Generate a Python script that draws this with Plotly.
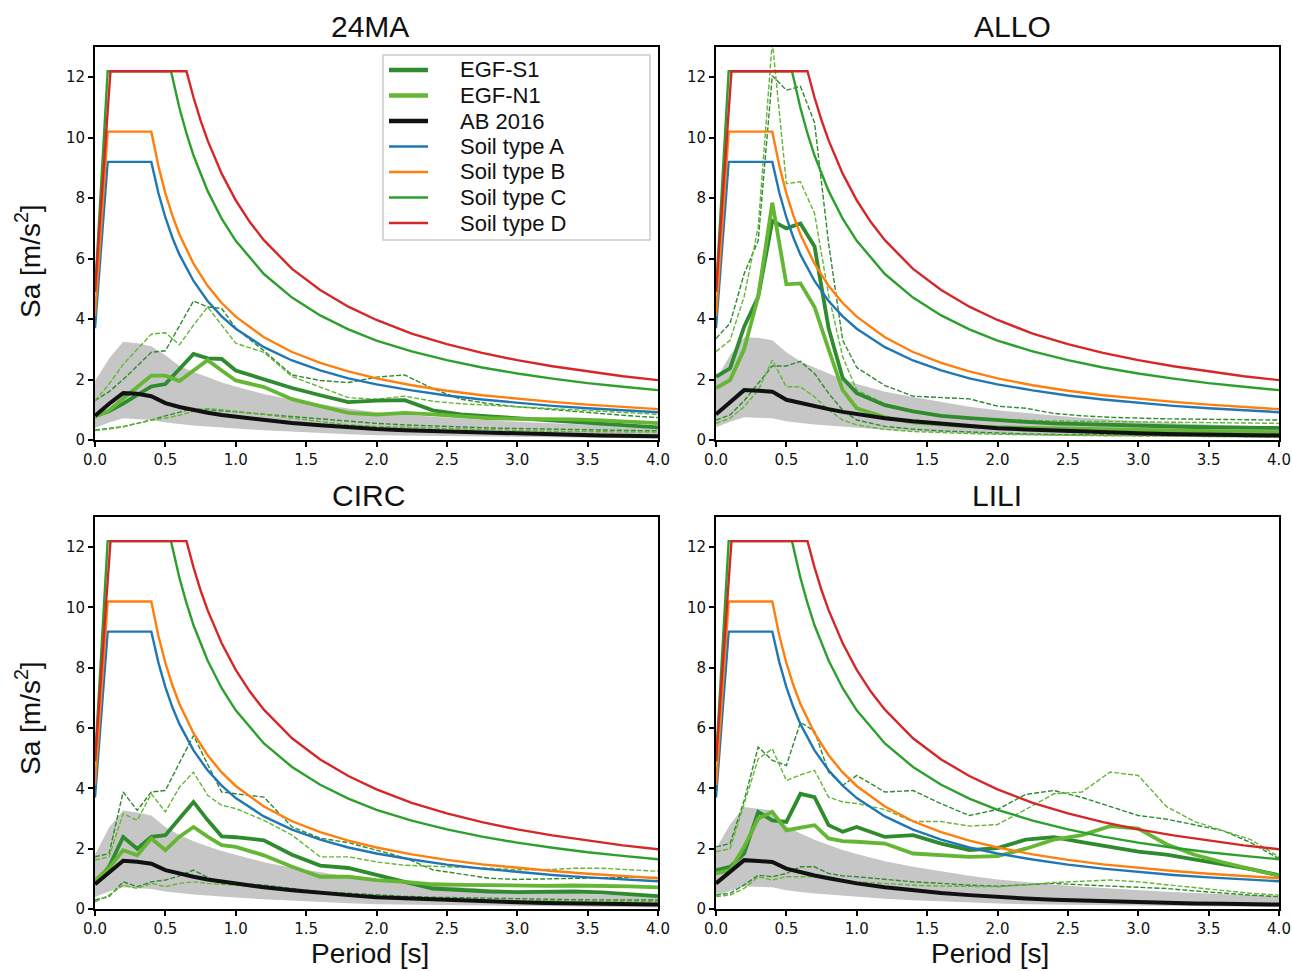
import plotly.graph_objects as go

# periods of the EGF / GMPE spectra
T_EGF = [0.0, 0.1, 0.2, 0.3, 0.4, 0.5, 0.6, 0.7, 0.8, 0.9, 1.0, 1.2, 1.4,
         1.6, 1.8, 2.0, 2.2, 2.4, 2.6, 2.8, 3.0, 3.2, 3.4, 3.6, 3.8, 4.0]

# design spectra
SOIL_AB_T = [0.0, 0.09, 0.4, 0.45, 0.5, 0.55, 0.6, 0.7, 0.8, 0.9, 1.0, 1.2, 1.4,
             1.6, 1.8, 2.0, 2.25, 2.5, 2.75, 3.0, 3.25, 3.5, 3.75, 4.0]
SOIL_A = [3.7, 9.2, 9.2, 8.18, 7.36, 6.69, 6.13, 5.26, 4.6, 4.09, 3.68, 3.07, 2.63,
          2.3, 2.04, 1.84, 1.64, 1.47, 1.34, 1.23, 1.13, 1.05, 0.98, 0.92]
SOIL_B = [4.1, 10.2, 10.2, 9.07, 8.16, 7.42, 6.8, 5.83, 5.1, 4.53, 4.08, 3.4, 2.91,
          2.55, 2.27, 2.04, 1.81, 1.63, 1.48, 1.36, 1.26, 1.17, 1.09, 1.02]
SOIL_C_T = [0.0, 0.09, 0.54, 0.57, 0.6, 0.65, 0.7, 0.8, 0.9, 1.0, 1.2, 1.4, 1.6,
            1.8, 2.0, 2.25, 2.5, 2.75, 3.0, 3.25, 3.5, 3.75, 4.0]
SOIL_C = [4.9, 12.2, 12.2, 11.56, 10.98, 10.14, 9.41, 8.24, 7.32, 6.59, 5.49, 4.71,
          4.12, 3.66, 3.29, 2.93, 2.64, 2.40, 2.20, 2.03, 1.88, 1.76, 1.65]
SOIL_D_T = [0.0, 0.11, 0.65, 0.7, 0.75, 0.8, 0.9, 1.0, 1.1, 1.2, 1.4, 1.6, 1.8,
            2.0, 2.25, 2.5, 2.75, 3.0, 3.25, 3.5, 3.75, 4.0]
SOIL_D = [4.9, 12.2, 12.2, 11.33, 10.57, 9.91, 8.81, 7.93, 7.21, 6.61, 5.66, 4.96,
          4.41, 3.97, 3.52, 3.17, 2.88, 2.64, 2.44, 2.27, 2.11, 1.98]

# 24MA
S1_24MA = [0.80, 0.95, 1.20, 1.50, 1.77, 1.85, 2.35, 2.85, 2.70, 2.68, 2.30, 2.00, 1.72,
           1.48, 1.25, 1.30, 1.32, 0.98, 0.85, 0.78, 0.72, 0.66, 0.60, 0.54, 0.48, 0.42]
S1_HI_24MA = [1.30, 1.60, 2.00, 2.45, 2.90, 2.95, 3.80, 4.60, 4.40, 4.35, 3.70, 2.95, 2.15,
              1.97, 1.90, 2.08, 2.15, 1.70, 1.35, 1.20, 1.10, 1.02, 0.94, 0.87, 0.80, 0.74]
S1_LO_24MA = [0.33, 0.38, 0.44, 0.55, 0.66, 0.80, 0.92, 1.04, 1.00, 0.97, 0.93, 0.85, 0.77,
              0.70, 0.62, 0.55, 0.50, 0.46, 0.42, 0.40, 0.38, 0.36, 0.34, 0.33, 0.31, 0.30]
N1_24MA = [0.77, 0.98, 1.37, 1.75, 2.13, 2.13, 1.95, 2.30, 2.64, 2.30, 1.97, 1.75, 1.35,
           1.12, 0.90, 0.84, 0.90, 0.85, 0.78, 0.72, 0.70, 0.70, 0.68, 0.65, 0.60, 0.56]
N1_HI_24MA = [1.30, 1.85, 2.50, 3.00, 3.50, 3.55, 3.15, 3.80, 4.40, 3.80, 3.20, 2.90, 2.10,
              1.75, 1.40, 1.35, 1.45, 1.28, 1.20, 1.15, 1.10, 1.05, 1.00, 0.95, 0.90, 0.85]
N1_LO_24MA = [0.31, 0.36, 0.44, 0.55, 0.66, 0.72, 0.82, 0.95, 1.04, 1.00, 0.95, 0.85, 0.72,
              0.60, 0.50, 0.45, 0.42, 0.40, 0.36, 0.33, 0.30, 0.29, 0.28, 0.27, 0.26, 0.26]
AB_24MA = [0.80, 1.20, 1.55, 1.53, 1.45, 1.22, 1.09, 0.98, 0.90, 0.83, 0.77, 0.65, 0.56,
           0.49, 0.42, 0.36, 0.32, 0.29, 0.26, 0.23, 0.21, 0.19, 0.17, 0.15, 0.14, 0.12]
AB_HI_24MA = [1.95, 2.70, 3.25, 3.20, 3.10, 2.80, 2.45, 2.25, 2.08, 1.90, 1.77, 1.52, 1.33,
              1.18, 1.04, 0.92, 0.84, 0.77, 0.71, 0.65, 0.60, 0.56, 0.52, 0.48, 0.45, 0.42]
AB_LO_24MA = [0.40, 0.58, 0.72, 0.70, 0.66, 0.58, 0.53, 0.48, 0.44, 0.41, 0.38, 0.32, 0.27,
              0.23, 0.19, 0.16, 0.14, 0.12, 0.11, 0.10, 0.09, 0.08, 0.07, 0.06, 0.06, 0.05]

# ALLO
S1_ALLO = [2.09, 2.37, 3.75, 4.74, 7.25, 7.00, 7.16, 6.40, 3.70, 2.05, 1.55, 1.15, 0.95,
           0.80, 0.72, 0.65, 0.60, 0.55, 0.52, 0.49, 0.47, 0.45, 0.43, 0.42, 0.41, 0.40]
S1_HI_ALLO = [3.36, 3.86, 5.50, 6.60, 12.05, 11.57, 11.70, 10.50, 6.50, 3.30, 2.40, 1.80, 1.45,
              1.40, 1.36, 1.12, 1.05, 0.88, 0.80, 0.75, 0.72, 0.70, 0.69, 0.68, 0.67, 0.66]
S1_LO_ALLO = [0.66, 0.83, 1.30, 1.87, 2.45, 2.45, 2.60, 2.20, 1.54, 0.99, 0.66, 0.45, 0.36,
              0.30, 0.26, 0.22, 0.20, 0.18, 0.17, 0.16, 0.15, 0.14, 0.13, 0.13, 0.12, 0.12]
N1_ALLO = [1.72, 1.98, 3.00, 4.75, 7.85, 5.15, 5.18, 4.40, 3.00, 1.65, 1.05, 0.75, 0.58,
           0.50, 0.45, 0.42, 0.40, 0.38, 0.36, 0.34, 0.32, 0.30, 0.29, 0.28, 0.27, 0.26]
N1_HI_ALLO = [2.92, 3.30, 4.74, 7.05, 13.20, 8.48, 8.54, 7.50, 4.80, 2.75, 1.65, 1.20, 0.95,
              0.82, 0.72, 0.68, 0.65, 0.63, 0.62, 0.61, 0.60, 0.59, 0.58, 0.57, 0.56, 0.55]
N1_LO_ALLO = [0.55, 0.72, 1.10, 1.65, 2.64, 1.76, 1.76, 1.43, 0.99, 0.66, 0.50, 0.35, 0.28,
              0.24, 0.21, 0.19, 0.17, 0.16, 0.15, 0.14, 0.13, 0.12, 0.11, 0.11, 0.10, 0.10]
AB_ALLO = [0.85, 1.25, 1.65, 1.63, 1.60, 1.33, 1.22, 1.11, 1.02, 0.93, 0.85, 0.72, 0.62,
           0.54, 0.46, 0.39, 0.35, 0.31, 0.28, 0.25, 0.22, 0.20, 0.18, 0.17, 0.16, 0.15]
AB_HI_ALLO = [2.00, 2.80, 3.40, 3.38, 3.30, 2.90, 2.60, 2.40, 2.20, 2.00, 1.85, 1.60, 1.42,
              1.26, 1.10, 0.98, 0.89, 0.81, 0.74, 0.68, 0.62, 0.57, 0.53, 0.49, 0.46, 0.43]
AB_LO_ALLO = [0.42, 0.60, 0.75, 0.74, 0.72, 0.62, 0.56, 0.51, 0.47, 0.44, 0.40, 0.34, 0.29,
              0.25, 0.21, 0.18, 0.16, 0.14, 0.12, 0.11, 0.10, 0.09, 0.08, 0.07, 0.07, 0.06]

# CIRC
S1_CIRC = [0.85, 1.40, 2.39, 2.00, 2.39, 2.45, 3.00, 3.55, 2.95, 2.41, 2.38, 2.28, 1.80,
           1.44, 1.36, 1.12, 0.90, 0.68, 0.62, 0.58, 0.56, 0.57, 0.58, 0.55, 0.50, 0.43]
S1_HI_CIRC = [1.73, 1.84, 3.88, 3.27, 3.88, 3.93, 4.85, 5.75, 4.80, 3.88, 3.82, 3.71, 2.72,
              2.35, 2.20, 1.95, 1.70, 1.30, 1.15, 1.02, 0.98, 1.00, 1.02, 1.05, 1.05, 1.05]
S1_LO_CIRC = [0.30, 0.41, 0.90, 0.74, 0.90, 0.96, 1.10, 1.29, 1.05, 0.85, 0.85, 0.79, 0.68,
              0.57, 0.52, 0.46, 0.42, 0.39, 0.37, 0.35, 0.33, 0.32, 0.31, 0.30, 0.30, 0.30]
N1_CIRC = [0.95, 1.35, 1.95, 1.78, 2.34, 1.95, 2.40, 2.72, 2.40, 2.12, 2.06, 1.78, 1.40,
           1.07, 1.07, 0.96, 0.90, 0.82, 0.80, 0.78, 0.77, 0.77, 0.78, 0.78, 0.75, 0.72]
N1_HI_CIRC = [1.62, 1.73, 3.16, 2.94, 3.82, 3.22, 4.04, 4.54, 3.77, 3.44, 3.33, 2.94, 2.45,
              1.73, 1.73, 1.56, 1.45, 1.42, 1.40, 1.35, 1.30, 1.30, 1.35, 1.35, 1.30, 1.25]
N1_LO_CIRC = [0.24, 0.46, 0.79, 0.68, 0.85, 0.74, 0.85, 0.90, 0.85, 0.82, 0.79, 0.70, 0.60,
              0.52, 0.46, 0.41, 0.37, 0.34, 0.31, 0.29, 0.28, 0.27, 0.26, 0.25, 0.25, 0.25]
AB_CIRC = [0.82, 1.20, 1.60, 1.57, 1.50, 1.29, 1.17, 1.07, 0.98, 0.91, 0.85, 0.72, 0.62,
           0.53, 0.46, 0.39, 0.35, 0.31, 0.28, 0.25, 0.22, 0.20, 0.18, 0.17, 0.16, 0.15]
AB_HI_CIRC = [1.80, 2.70, 3.27, 3.20, 3.10, 2.72, 2.45, 2.25, 2.08, 1.92, 1.80, 1.55, 1.37,
              1.22, 1.08, 0.96, 0.87, 0.79, 0.72, 0.66, 0.60, 0.55, 0.51, 0.47, 0.44, 0.41]
AB_LO_CIRC = [0.40, 0.58, 0.72, 0.70, 0.66, 0.58, 0.53, 0.48, 0.44, 0.41, 0.38, 0.32, 0.27,
              0.23, 0.19, 0.16, 0.14, 0.12, 0.11, 0.10, 0.09, 0.08, 0.07, 0.06, 0.06, 0.05]

# LILI
S1_LILI = [1.29, 1.40, 1.84, 3.22, 2.94, 2.89, 3.82, 3.71, 2.78, 2.56, 2.72, 2.39, 2.45,
           2.17, 1.95, 2.02, 2.30, 2.38, 2.22, 2.05, 1.90, 1.80, 1.65, 1.50, 1.32, 1.12]
S1_HI_LILI = [2.06, 2.17, 3.60, 5.37, 4.93, 4.76, 6.19, 5.90, 4.54, 4.10, 4.43, 3.88, 3.93,
              3.49, 3.10, 3.30, 3.80, 3.93, 3.70, 3.40, 3.10, 2.98, 2.80, 2.60, 2.20, 1.67]
S1_LO_LILI = [0.46, 0.52, 0.80, 1.12, 1.07, 1.18, 1.40, 1.40, 1.18, 1.10, 1.07, 0.98, 0.90,
              0.85, 0.79, 0.76, 0.80, 0.85, 0.80, 0.76, 0.74, 0.68, 0.60, 0.52, 0.46, 0.41]
N1_LILI = [1.18, 1.29, 2.06, 3.00, 3.22, 2.61, 2.70, 2.78, 2.34, 2.25, 2.23, 2.17, 1.84,
           1.79, 1.73, 1.75, 2.00, 2.30, 2.45, 2.75, 2.67, 2.15, 1.80, 1.55, 1.33, 1.10]
N1_HI_LILI = [1.90, 2.00, 3.49, 4.98, 5.31, 4.26, 4.45, 4.60, 3.71, 3.55, 3.50, 3.30, 2.90,
              2.90, 2.75, 2.80, 3.30, 3.82, 3.88, 4.54, 4.43, 3.40, 2.90, 2.60, 2.30, 1.73]
N1_LO_LILI = [0.41, 0.46, 0.68, 1.07, 0.96, 1.07, 1.07, 1.07, 1.00, 0.95, 0.90, 0.85, 0.79,
              0.76, 0.74, 0.74, 0.80, 0.88, 0.92, 0.96, 0.90, 0.80, 0.70, 0.60, 0.52, 0.46]
AB_LILI = [0.85, 1.25, 1.62, 1.59, 1.56, 1.34, 1.22, 1.11, 1.02, 0.93, 0.85, 0.72, 0.62,
           0.53, 0.46, 0.39, 0.35, 0.31, 0.28, 0.25, 0.22, 0.20, 0.18, 0.17, 0.16, 0.15]
AB_HI_LILI = [2.00, 2.80, 3.38, 3.33, 3.27, 2.75, 2.50, 2.30, 2.12, 1.96, 1.82, 1.58, 1.40,
              1.24, 1.10, 0.98, 0.89, 0.81, 0.74, 0.68, 0.62, 0.57, 0.53, 0.49, 0.46, 0.43]
AB_LO_LILI = [0.42, 0.60, 0.75, 0.74, 0.72, 0.62, 0.56, 0.51, 0.47, 0.44, 0.40, 0.34, 0.29,
              0.25, 0.21, 0.18, 0.16, 0.14, 0.12, 0.11, 0.10, 0.09, 0.08, 0.07, 0.07, 0.06]

STATIONS = ["24MA", "ALLO", "CIRC", "LILI"]
X_TICKS = [0.0, 0.5, 1.0, 1.5, 2.0, 2.5, 3.0, 3.5, 4.0]
Y_TICKS = [0, 2, 4, 6, 8, 10, 12]

panels = [
    (S1_24MA, S1_HI_24MA, S1_LO_24MA, N1_24MA, N1_HI_24MA, N1_LO_24MA, AB_24MA, AB_HI_24MA, AB_LO_24MA),
    (S1_ALLO, S1_HI_ALLO, S1_LO_ALLO, N1_ALLO, N1_HI_ALLO, N1_LO_ALLO, AB_ALLO, AB_HI_ALLO, AB_LO_ALLO),
    (S1_CIRC, S1_HI_CIRC, S1_LO_CIRC, N1_CIRC, N1_HI_CIRC, N1_LO_CIRC, AB_CIRC, AB_HI_CIRC, AB_LO_CIRC),
    (S1_LILI, S1_HI_LILI, S1_LO_LILI, N1_LILI, N1_HI_LILI, N1_LO_LILI, AB_LILI, AB_HI_LILI, AB_LO_LILI),
]

S1_COL = "#2e8b2e"
N1_COL = "#64b634"
W, H = 1292, 971


def px(x):
    return x / W


def py(y):
    return 1 - y / H


# plot areas in page pixels (left, right, top, bottom)
boxes = [(95, 658, 47, 440), (716, 1279, 47, 440), (95, 658, 517, 909), (716, 1279, 517, 909)]

soils = [("Soil type A", SOIL_AB_T, SOIL_A, "#1f77b4"),
         ("Soil type B", SOIL_AB_T, SOIL_B, "#ff7f0e"),
         ("Soil type C", SOIL_C_T, SOIL_C, "#2ca02c"),
         ("Soil type D", SOIL_D_T, SOIL_D, "#d62728")]

fig = go.Figure()

for i, data in enumerate(panels):
    s1, s1hi, s1lo, n1, n1hi, n1lo, ab, abhi, ablo = data
    sfx = "" if i == 0 else str(i + 1)
    xa, ya = "x" + sfx, "y" + sfx

    # GMPE +/- sigma band
    fig.add_trace(go.Scatter(x=T_EGF + T_EGF[::-1], y=abhi + ablo[::-1], fill="toself",
                             fillcolor="#c6c6c6", line=dict(width=0), mode="lines",
                             hoverinfo="skip", xaxis=xa, yaxis=ya))
    for ys, col in [(s1hi, S1_COL), (s1lo, S1_COL), (n1hi, N1_COL), (n1lo, N1_COL)]:
        fig.add_trace(go.Scatter(x=T_EGF, y=ys, mode="lines",
                                 line=dict(color=col, width=1.4, dash="5px,2px"),
                                 xaxis=xa, yaxis=ya))
    fig.add_trace(go.Scatter(x=T_EGF, y=s1, mode="lines", name="EGF-S1",
                             line=dict(color=S1_COL, width=3.8), xaxis=xa, yaxis=ya))
    fig.add_trace(go.Scatter(x=T_EGF, y=n1, mode="lines", name="EGF-N1",
                             line=dict(color=N1_COL, width=3.8), xaxis=xa, yaxis=ya))
    fig.add_trace(go.Scatter(x=T_EGF, y=ab, mode="lines", name="AB 2016",
                             line=dict(color="#111111", width=4), xaxis=xa, yaxis=ya))
    for nm, tx, ys, col in soils:
        fig.add_trace(go.Scatter(x=tx, y=ys, mode="lines", name=nm,
                                 line=dict(color=col, width=2.4), xaxis=xa, yaxis=ya))

axis_common = dict(showgrid=False, zeroline=False, showline=True, mirror=True,
                   automargin=False,
                   linecolor="black", linewidth=2, ticks="outside", ticklen=5, tickwidth=1.5,
                   tickcolor="black", tickfont=dict(family="DejaVu Sans", size=15, color="#111"))

layout = {}
for i, (l, r, t, b) in enumerate(boxes):
    sfx = "" if i == 0 else str(i + 1)
    layout["xaxis" + sfx] = dict(axis_common, domain=[px(l), px(r)], range=[0, 4],
                                 tickvals=X_TICKS, tickformat=".1f", anchor="y" + sfx)
    layout["yaxis" + sfx] = dict(axis_common, domain=[py(b), py(t)], range=[0, 13],
                                 tickvals=Y_TICKS, anchor="x" + sfx)

FONT = "Liberation Sans, Arial"
title_pos = [(370, 26), (1012, 26), (368, 495), (997, 495)]
ann = []
for name, (tx, ty) in zip(STATIONS, title_pos):
    ann.append(dict(text=name, x=px(tx), y=py(ty), xref="paper", yref="paper",
                    showarrow=False, xanchor="center", yanchor="middle",
                    font=dict(family=FONT, size=30, color="#111")))
for cy in [261, 718]:
    ann.append(dict(text="Sa [m/s<sup>2</sup>]", x=px(28), y=py(cy), xref="paper",
                    yref="paper", showarrow=False, textangle=-90, xanchor="center",
                    yanchor="middle", font=dict(family=FONT, size=28, color="#111")))
for cx in [370, 990]:
    ann.append(dict(text="Period [s]", x=px(cx), y=py(953), xref="paper",
                    yref="paper", showarrow=False, xanchor="center", yanchor="middle",
                    font=dict(family=FONT, size=28, color="#111")))

# legend box drawn by hand (matplotlib-like spacing)
legend_items = [("EGF-S1", S1_COL, 4.5), ("EGF-N1", N1_COL, 4.5), ("AB 2016", "#111111", 4.5)]
legend_items += [(nm, col, 2.6) for nm, _, _, col in soils]
shapes = [dict(type="rect", xref="paper", yref="paper", x0=px(383), x1=px(650),
               y0=py(240), y1=py(55), line=dict(color="#cccccc", width=1.5),
               fillcolor="rgba(255,255,255,0.85)", layer="above")]
for k, (nm, col, lw) in enumerate(legend_items):
    yy = 70 + 25.5 * k
    shapes.append(dict(type="line", xref="paper", yref="paper", x0=px(389), x1=px(428),
                       y0=py(yy), y1=py(yy), line=dict(color=col, width=lw), layer="above"))
    ann.append(dict(text=nm, x=px(458), y=py(yy), xref="paper", yref="paper",
                    showarrow=False, xanchor="left", yanchor="middle",
                    font=dict(family=FONT, size=22, color="#111")))

fig.update_layout(
    width=W, height=H, margin=dict(l=0, r=0, t=0, b=0, autoexpand=False),
    paper_bgcolor="white", plot_bgcolor="white",
    showlegend=False, annotations=ann, shapes=shapes,
    **layout,
)

# drop the default 8px body margin so the figure fills the window exactly
fig.write_html("out.html", config={"displayModeBar": False},
               post_script="document.body.style.margin='0px';")
